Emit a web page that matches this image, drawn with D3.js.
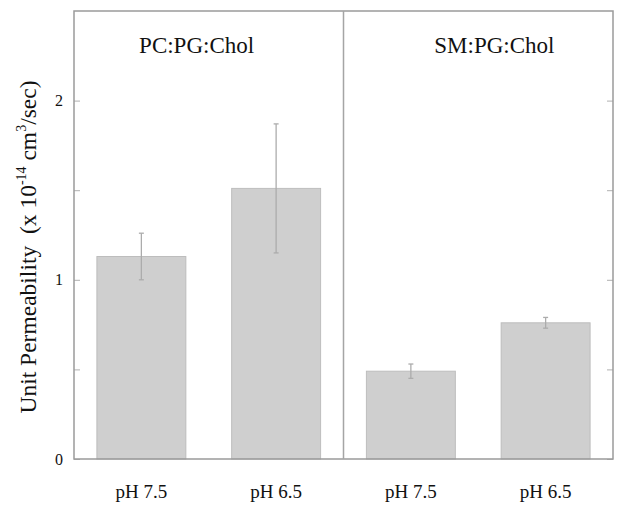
<!DOCTYPE html>
<html>
<head>
<meta charset="utf-8">
<script src="https://cdn.jsdelivr.net/npm/d3@7"></script>
<style>
  body { margin: 0; background: #fff; }
  text { font-family: "Liberation Serif", "Times New Roman", serif; fill: #111; }
</style>
</head>
<body>
<div class="grafico"></div>
<script>
/*Datos*/
const groups = ['PC:PG:Chol', 'SM:PG:Chol'];
const categories = ['pH 7.5', 'pH 6.5', 'pH 7.5', 'pH 6.5'];
const values = [1.13, 1.51, 0.49, 0.76];
const errors = [0.13, 0.36, 0.04, 0.03];
const majorTicks = [0, 1, 2];
const minorTicks = [0.5, 1.5];

const w = 624;
const h = 509;
const padL = 74, padR = 613, padT = 11, padB = 459;
const serif = '"Liberation Serif", "Times New Roman", serif';

const svg = d3.select('.grafico')
  .append('svg')
  .attr('width', w)
  .attr('height', h);

/*Escalas*/
const xScale = d3.scaleBand()
  .domain(d3.range(values.length))
  .range([padL, padR])
  .paddingInner(0.34)
  .paddingOuter(0.17);

const groupScale = d3.scaleBand()
  .domain(d3.range(groups.length))
  .range([padL, padR]);

const yScale = d3.scaleLinear()
  .domain([0, 2.5])
  .range([padB, padT]);

/*Barras*/
svg.selectAll('rect.bar')
  .data(values)
  .enter()
  .append('rect')
  .attr('class', 'bar')
  .attr('x', (d, i) => xScale(i))
  .attr('y', d => yScale(d))
  .attr('width', xScale.bandwidth())
  .attr('height', d => yScale(0) - yScale(d))
  .attr('fill', '#cfcfcf')
  .attr('stroke', '#bdbdbd')
  .attr('stroke-width', 1);

/*Barras de error*/
const err = svg.append('g')
  .attr('stroke', '#acacac')
  .attr('stroke-width', 1.3);

values.forEach((v, i) => {
  const cx = xScale(i) + xScale.bandwidth() / 2;
  err.append('line')
    .attr('x1', cx).attr('x2', cx)
    .attr('y1', yScale(v + errors[i])).attr('y2', yScale(v - errors[i]));
  [v + errors[i], v - errors[i]].forEach(e => {
    err.append('line')
      .attr('x1', cx - 2.5).attr('x2', cx + 2.5)
      .attr('y1', yScale(e)).attr('y2', yScale(e));
  });
});

/*Ejes (ticks hacia adentro)*/
const yAxis = d3.axisLeft(yScale)
  .tickValues(majorTicks)
  .tickSize(-6)
  .tickPadding(11)
  .tickFormat(d3.format('d'));

const gy = svg.append('g')
  .attr('transform', `translate(${padL},0)`)
  .call(yAxis);
gy.select('.domain').remove();
gy.selectAll('line').attr('stroke', '#b0b0b0');
gy.attr('font-family', serif).attr('font-size', 16);
gy.selectAll('text').attr('fill', '#111');

const gyMinor = svg.append('g')
  .attr('transform', `translate(${padL},0)`)
  .call(d3.axisLeft(yScale).tickValues(minorTicks).tickSize(-6).tickFormat(''));
gyMinor.select('.domain').remove();
gyMinor.selectAll('line').attr('stroke', '#b0b0b0');

const gyRight = svg.append('g')
  .attr('transform', `translate(${padR},0)`)
  .call(d3.axisRight(yScale).tickValues(majorTicks.concat(minorTicks)).tickSize(-6).tickFormat(''));
gyRight.select('.domain').remove();
gyRight.selectAll('line').attr('stroke', '#b0b0b0');

/*Marco y separador*/
svg.append('rect')
  .attr('x', padL).attr('y', padT)
  .attr('width', padR - padL).attr('height', padB - padT)
  .attr('fill', 'none')
  .attr('stroke', '#9a9a9a')
  .attr('stroke-width', 1.5);

svg.append('line')
  .attr('x1', groupScale(1)).attr('x2', groupScale(1))
  .attr('y1', padT).attr('y2', padB)
  .attr('stroke', '#a5a5a5')
  .attr('stroke-width', 1.5);

/*Etiquetas de categorías*/
svg.selectAll('text.cat')
  .data(categories)
  .enter()
  .append('text')
  .attr('class', 'cat')
  .attr('x', (d, i) => xScale(i) + xScale.bandwidth() / 2)
  .attr('y', 498)
  .attr('text-anchor', 'middle')
  .style('font-size', '19px')
  .text(d => d);

/*Etiquetas de grupos*/
const groupOffset = [0.455, 0.56];
svg.selectAll('text.grp')
  .data(groups)
  .enter()
  .append('text')
  .attr('class', 'grp')
  .attr('x', (d, i) => groupScale(i) + groupScale.bandwidth() * groupOffset[i])
  .attr('y', 53)
  .attr('text-anchor', 'middle')
  .style('font-size', '23px')
  .text(d => d);

/*Título del eje Y*/
const yt = svg.append('text')
  .attr('transform', `translate(36,${(padT + padB) / 2 + 12}) rotate(-90)`)
  .attr('text-anchor', 'middle')
  .style('font-size', '23.5px');
yt.append('tspan').text('Unit Permeability\u00a0\u00a0(x 10');
yt.append('tspan').attr('dy', -10).style('font-size', '14px').text('-14');
yt.append('tspan').attr('dy', 10).text(' cm');
yt.append('tspan').attr('dy', -10).style('font-size', '14px').text('3');
yt.append('tspan').attr('dy', 10).text('/sec)');
</script>
</body>
</html>
